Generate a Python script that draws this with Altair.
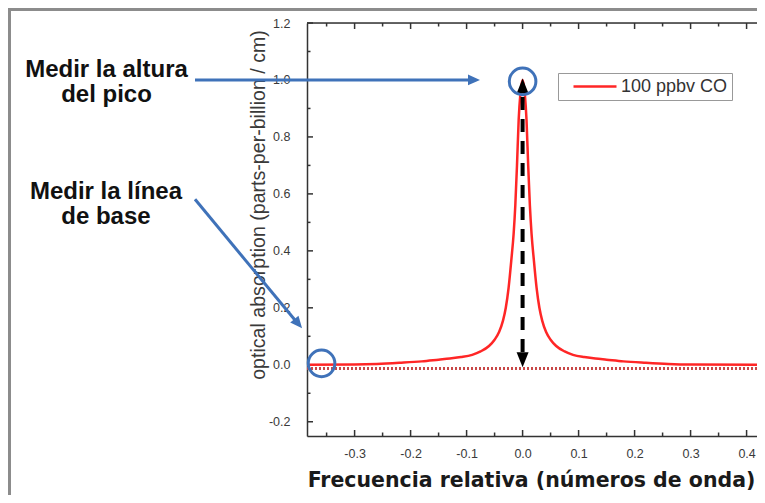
import altair as alt
import pandas as pd

# ---------------- data ----------------
series_name = "100 ppbv CO"

freq = [-0.385, -0.30, -0.26, -0.22, -0.18, -0.15, -0.13, -0.11, -0.09, -0.075,
        -0.06, -0.05, -0.042, -0.035, -0.030, -0.025, -0.020, -0.016, -0.013,
        -0.010, -0.007, -0.004, 0.0, 0.004, 0.007, 0.010, 0.013, 0.016, 0.020,
        0.025, 0.030, 0.035, 0.042, 0.050, 0.060, 0.075, 0.090, 0.110, 0.130,
        0.150, 0.180, 0.220, 0.260, 0.300, 0.4186]
absorb = [0.0, 0.001, 0.003, 0.007, 0.012, 0.018, 0.022, 0.027, 0.035, 0.047,
          0.066, 0.088, 0.115, 0.155, 0.20, 0.27, 0.37, 0.46, 0.56,
          0.70, 0.86, 0.95, 1.0, 0.95, 0.86, 0.70, 0.56, 0.46, 0.37,
          0.27, 0.20, 0.155, 0.115, 0.088, 0.066, 0.047, 0.035, 0.027, 0.022,
          0.018, 0.012, 0.007, 0.003, 0.001, 0.0]

x_major = [-0.3, -0.2, -0.1, 0.0, 0.1, 0.2, 0.3, 0.4]
x_minor = [-0.35, -0.25, -0.15, -0.05, 0.05, 0.15, 0.25, 0.35]
y_major = [-0.2, 0.0, 0.2, 0.4, 0.6, 0.8, 1.0, 1.2]
y_minor = [-0.1, 0.1, 0.3, 0.5, 0.7, 0.9, 1.1]

x_domain = [-0.385, 0.4186]
y_domain = [-0.25, 1.2]
baseline_level = [-0.013]

# annotations, in data units
note_text = ["Medir la altura\ndel pico", "Medir la línea\nde base"]
note_x = [-0.743, -0.744]
note_y = [1.0115, 0.582]

arrow_x = [-0.585, -0.585]
arrow_y = [1.0, 0.581]
arrow_x2 = [-0.09, -0.401]
arrow_y2 = [1.0, 0.144]
head_x = [-0.0868, -0.4007]
head_y = [1.0, 0.1443]
head_angle = [0, 50]

circle_x = [0.0, -0.359]
circle_y = [0.995, 0.005]

peak_x = [0.0]
peak_from = [0.045]
peak_to = [0.953]
up_head_y = [0.979]
down_head_y = [0.018]

# ---------------- chart ----------------
W, H = 450, 413
BLUE = "#3f72b9"
RED = "#ff2626"
AX = "#333333"

xs = alt.Scale(domain=x_domain, nice=False, zero=False)
ys = alt.Scale(domain=y_domain, nice=False, zero=False)

label_expr = "datum.value < 0 ? '-' + format(-datum.value, '.1f') : format(datum.value, '.1f')"

x_axis = alt.Axis(
    values=x_major, labelExpr=label_expr, ticks=False, tickSize=0, grid=False,
    domainColor=AX, domainWidth=1.5, labelFont="Liberation Sans", labelFontSize=12.5,
    labelColor="#3a3a3a", labelPadding=11, labelFlush=False, labelOverlap=False,
    title="Frecuencia relativa (números de onda)", titleFont="DejaVu Sans",
    titleFontSize=20.5, titleFontWeight="bold", titleColor="#1a1a1a",
    titleX=224, titleY=44, titleAlign="center", titleBaseline="middle", titleAngle=0)
y_axis = alt.Axis(
    values=y_major, labelExpr=label_expr, ticks=False, tickSize=0, grid=False,
    domainColor=AX, domainWidth=1.5, labelFont="Liberation Sans", labelFontSize=12.5,
    labelColor="#3a3a3a", labelPadding=17, labelFlush=False, labelOverlap=False,
    title="optical absorption (parts-per-billion / cm)", titleFont="Liberation Sans",
    titleFontSize=19.6, titleFontWeight="normal", titleColor="#3a3a3a",
    titleX=-49, titleY=181.5, titleAngle=270, titleAlign="center", titleBaseline="middle")


def X(f):
    return alt.X(f"{f}:Q", scale=xs, axis=x_axis)


def Y(f):
    return alt.Y(f"{f}:Q", scale=ys, axis=y_axis)


curve_df = pd.DataFrame({"freq": freq, "absorb": absorb, "series": series_name})
curve = alt.Chart(curve_df).mark_line(strokeWidth=2.5, interpolate="monotone").encode(
    x=X("freq"),
    y=Y("absorb"),
    color=alt.Color("series:N", scale=alt.Scale(domain=[series_name], range=[RED]),
                    legend=alt.Legend(orient="none", legendX=251, legendY=50, title=None,
                                      padding=4, strokeColor="#999999", fillColor="#ffffff",
                                      symbolType="stroke", symbolSize=1849, symbolStrokeWidth=2.5,
                                      symbolOffset=10, clipHeight=19, labelFont="Liberation Sans",
                                      labelFontSize=18, labelColor="#333333", labelOffset=3)),
)

frame_df = pd.DataFrame({"x0": [x_domain[0]], "x1": [x_domain[1]], "ytop": [y_domain[1]],
                         "ybase": baseline_level})
top_frame = alt.Chart(frame_df).mark_rule(color=AX, strokeWidth=1.5).encode(
    x=X("x0"), x2="x1", y=Y("ytop"))
base_dots = alt.Chart(frame_df).mark_rule(color="#c84848", strokeWidth=3, strokeDash=[2, 2]).encode(
    x=X("x0"), x2="x1", y=Y("ybase"))

xmaj = pd.DataFrame({"t": x_major})
xmin = pd.DataFrame({"t": x_minor})
ymaj = pd.DataFrame({"t": y_major})
ymin = pd.DataFrame({"t": y_minor})
tick = dict(color=AX, strokeWidth=1.5)
ticks = [
    alt.Chart(xmaj).mark_rule(**tick).encode(x=X("t"), y=alt.value(H), y2=alt.value(H - 6)),
    alt.Chart(xmin).mark_rule(**tick).encode(x=X("t"), y=alt.value(H), y2=alt.value(H - 3.5)),
    alt.Chart(xmaj).mark_rule(**tick).encode(x=X("t"), y=alt.value(0), y2=alt.value(6)),
    alt.Chart(xmin).mark_rule(**tick).encode(x=X("t"), y=alt.value(0), y2=alt.value(3.5)),
    alt.Chart(ymaj).mark_rule(**tick).encode(y=Y("t"), x=alt.value(0), x2=alt.value(6)),
    alt.Chart(ymin).mark_rule(**tick).encode(y=Y("t"), x=alt.value(0), x2=alt.value(3.5)),
]

peak_df = pd.DataFrame({"x": peak_x, "y": peak_from, "y2": peak_to,
                        "up": up_head_y, "down": down_head_y})
peak_line = alt.Chart(peak_df).mark_rule(color="#000000", strokeWidth=4, strokeDash=[13, 9]).encode(
    x=X("x"), y=Y("y"), y2="y2")
up_head = alt.Chart(peak_df).mark_point(shape="M0,-1L-0.8,1L0.8,1Z", filled=True, size=225,
                                        color="#000000", opacity=1).encode(x=X("x"), y=Y("up"))
down_head = alt.Chart(peak_df).mark_point(shape="M0,1L-0.8,-1L0.8,-1Z", filled=True, size=225,
                                          color="#000000", opacity=1).encode(x=X("x"), y=Y("down"))

arr_df = pd.DataFrame({"x": arrow_x, "y": arrow_y, "x2": arrow_x2, "y2": arrow_y2,
                       "hx": head_x, "hy": head_y, "angle": head_angle})
arrows = alt.Chart(arr_df).mark_rule(color=BLUE, strokeWidth=3).encode(
    x=X("x"), y=Y("y"), x2="x2", y2="y2")
heads = alt.Chart(arr_df).mark_point(shape="M1,0L-1,-0.9L-1,0.9Z", filled=True, size=144,
                                     color=BLUE, opacity=1).encode(
    x=X("hx"), y=Y("hy"), angle=alt.Angle("angle:Q", scale=None))

circ_df = pd.DataFrame({"x": circle_x, "y": circle_y})
circles = alt.Chart(circ_df).mark_point(shape="circle", filled=False, size=707, strokeWidth=3,
                                        color=BLUE, opacity=1).encode(x=X("x"), y=Y("y"))

note_df = pd.DataFrame({"x": note_x, "y": note_y, "text": note_text})
notes = alt.Chart(note_df).mark_text(font="Liberation Sans", fontSize=24, fontWeight="bold",
                                     align="center", baseline="alphabetic", lineBreak="\n",
                                     lineHeight=25, color="#111111").encode(
    x=X("x"), y=Y("y"), text="text:N")

# outer picture frame (decoration, drawn as thin filled bands in pixels)
one = pd.DataFrame({"k": [0]})
border_left = alt.Chart(one).mark_rect(color="#8c8c8c").encode(
    x=alt.value(-299), x2=alt.value(-296), y=alt.value(-15), y2=alt.value(472))
border_top = alt.Chart(one).mark_rect(color="#8c8c8c").encode(
    x=alt.value(-299), x2=alt.value(450), y=alt.value(-15), y2=alt.value(-12))

chart = alt.layer(
    top_frame, *ticks, base_dots, curve, peak_line, up_head, down_head,
    arrows, heads, circles, notes, border_left, border_top,
).properties(
    width=W, height=H,
    padding={"left": 299, "top": 15, "right": 0, "bottom": 59},
    autosize=alt.AutoSizeParams(type="none"),
).configure_view(stroke="transparent", strokeWidth=0).configure(background="#ffffff")

chart.save("out.html", embed_options={"renderer": "svg", "actions": False})
